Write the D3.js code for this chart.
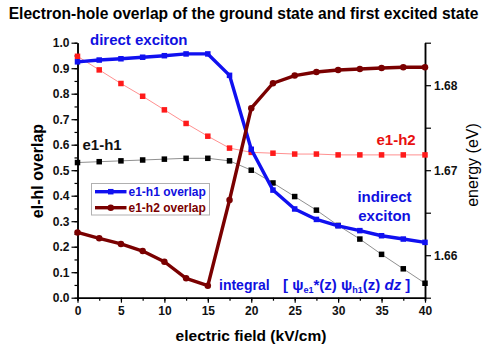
<!DOCTYPE html>
<html><head><meta charset="utf-8">
<script src="https://cdn.jsdelivr.net/npm/d3@7/dist/d3.min.js"></script>
<style>
body{margin:0;background:#fff;}
svg{font-family:"Liberation Sans",Arial,sans-serif;}
</style></head>
<body><svg id="c" width="488" height="350"></svg>
<script>
const field = [0,2.5,5,7.5,10,12.5,15,17.5,20,22.5,25,27.5,30,32.5,35,37.5,40];
const e1h1Overlap = [0.925,0.932,0.937,0.943,0.949,0.956,0.956,0.872,0.582,0.422,0.348,0.307,0.282,0.263,0.243,0.230,0.217];
const e1h2Overlap = [0.256,0.233,0.211,0.183,0.141,0.076,0.047,0.383,0.743,0.841,0.871,0.885,0.893,0.897,0.901,0.904,0.904];
const e1h1Energy = [1.6709,1.6710,1.6711,1.6712,1.6713,1.6714,1.6714,1.6711,1.6700,1.6685,1.6669,1.6653,1.6635,1.6619,1.6601,1.6584,1.6567];
const e1h2Energy = [1.6834,1.6818,1.6802,1.6787,1.6771,1.6755,1.6740,1.6726,1.6721,1.6720,1.6719,1.6719,1.6718,1.6718,1.6718,1.6718,1.6718];
const xTicks = [0,5,10,15,20,25,30,35,40];
const leftTicks = [0,0.1,0.2,0.3,0.4,0.5,0.6,0.7,0.8,0.9,1.0];
const rightTicks = [1.66,1.67,1.68];

const svg = d3.select("#c");
const L=77.5, R=425, T=42.7, B=297.7;
const x = d3.scaleLinear().domain([0,40]).range([L,R]);
const yL = d3.scaleLinear().domain([0,1]).range([B,T]);
const yR = d3.scaleLinear().domain([1.655,1.685]).range([B,T]);

svg.append("text").attr("x",243.5).attr("y",19).attr("text-anchor","middle")
  .attr("font-size",15.6).attr("font-weight","bold").text("Electron-hole overlap of the ground state and first excited state");

function styleAxis(g){
  g.selectAll("path").attr("stroke","#000").attr("stroke-width",1.5);
  g.selectAll("line").attr("stroke","#000").attr("stroke-width",1.2);
  g.selectAll("text").attr("font-size",12).attr("font-weight","bold").attr("fill","#111");
}
svg.append("g").attr("transform",`translate(0,${B})`)
  .call(d3.axisBottom(x).tickValues(d3.range(0,40.01,2.5)).tickSize(3).tickFormat("")).call(styleAxis);
svg.append("g").attr("transform",`translate(0,${B})`)
  .call(d3.axisBottom(x).tickValues(xTicks).tickSize(5).tickSizeOuter(0).tickPadding(4).tickFormat(d3.format("d"))).call(styleAxis);
svg.append("g").attr("transform",`translate(${L},0)`)
  .call(d3.axisLeft(yL).tickValues(d3.range(0,1.001,0.05)).tickSize(3).tickSizeOuter(0).tickFormat("")).call(styleAxis);
svg.append("g").attr("transform",`translate(${L},0)`)
  .call(d3.axisLeft(yL).tickValues(leftTicks).tickSize(6).tickSizeOuter(0).tickPadding(2).tickFormat(d3.format(".1f"))).call(styleAxis);
svg.append("g").attr("transform",`translate(${R},0)`)
  .call(d3.axisRight(yR).tickValues([1.655,1.665,1.675,1.685]).tickSize(6).tickSizeOuter(0).tickFormat("")).call(styleAxis);
svg.append("g").attr("transform",`translate(${R},0)`)
  .call(d3.axisRight(yR).tickValues(rightTicks).tickSize(6).tickSizeOuter(0).tickPadding(3).tickFormat(d3.format(".2f"))).call(styleAxis);

svg.append("text").attr("x",251).attr("y",341).attr("text-anchor","middle")
  .attr("font-size",15.5).attr("font-weight","bold").text("electric field (kV/cm)");
svg.append("text").attr("transform",`translate(43,171) rotate(-90)`).attr("text-anchor","middle")
  .attr("font-size",16).attr("font-weight","bold").text("el-hl overlap");
svg.append("text").attr("transform",`translate(478,165) rotate(-90)`).attr("text-anchor","middle")
  .attr("font-size",16).text("energy (eV)");

const pts = (ys, sc) => field.map((f,i)=>[x(f), sc(ys[i])]);
const line = d3.line();
function drawSeries(data, lineColor, w, markColor, shape, size){
  svg.append("path").attr("d",line(data)).attr("fill","none").attr("stroke",lineColor).attr("stroke-width",w).attr("stroke-linejoin","round");
  const g = svg.append("g");
  data.forEach(p=>{
    if(shape==="sq") g.append("rect").attr("x",p[0]-size/2).attr("y",p[1]-size/2).attr("width",size).attr("height",size).attr("fill",markColor);
    else g.append("circle").attr("cx",p[0]).attr("cy",p[1]).attr("r",size/2).attr("fill",markColor);
  });
}
drawSeries(pts(e1h1Energy,yR),"#909090",1,"#000","sq",5.5);
drawSeries(pts(e1h2Energy,yR),"#ff9090",1,"#ff1a1a","sq",5.5);
drawSeries(pts(e1h1Overlap,yL),"#1010f0",3.4,"#1010f0","sq",5.5);
drawSeries(pts(e1h2Overlap,yL),"#7a0000",3.4,"#7a0000","ci",6.5);

const ann = (tx,ty,t,c,anchor)=>svg.append("text").attr("x",tx).attr("y",ty).attr("fill",c)
  .attr("font-size",15).attr("font-weight","bold").attr("text-anchor",anchor||"start").text(t);
ann(90,45,"direct exciton","#1010e0");
ann(82.5,150,"e1-h1","#111");
ann(376.5,145,"e1-h2","#e81010");
ann(384.5,201.5,"indirect","#1010e0","middle");
ann(384.5,221,"exciton","#1010e0","middle");
const it = svg.append("text").attr("x",219).attr("y",289.5).attr("fill","#1010e0").attr("font-size",15).attr("font-weight","bold");
it.append("tspan").attr("font-size",14).text("integral");
it.append("tspan").attr("x",283).text("[ ");
it.append("tspan").text("ψ");
it.append("tspan").attr("font-size",9).attr("dy",3).text("e1");
it.append("tspan").attr("dy",-3).text("*(z) ");
it.append("tspan").text("ψ");
it.append("tspan").attr("font-size",9).attr("dy",3).text("h1");
it.append("tspan").attr("dy",-3).text("(z) ");
it.append("tspan").attr("font-style","italic").text("dz");
it.append("tspan").text(" ]");

const lg = svg.append("g");
lg.append("rect").attr("x",91.5).attr("y",183.5).attr("width",118).attr("height",31.5).attr("fill","#fff").attr("stroke","#b0b0b0").attr("stroke-width",1);
const leg = [{t:"e1-h1 overlap",c:"#1010f0",tc:"#1010e0",s:"sq",y:191.7},{t:"e1-h2 overlap",c:"#7a0000",tc:"#7a0000",s:"ci",y:207.7}];
leg.forEach(d=>{
  lg.append("line").attr("x1",95).attr("x2",126.5).attr("y1",d.y).attr("y2",d.y).attr("stroke",d.c).attr("stroke-width",3.4);
  if(d.s==="sq") lg.append("rect").attr("x",108).attr("y",d.y-2.75).attr("width",5.5).attr("height",5.5).attr("fill",d.c);
  else lg.append("circle").attr("cx",110.75).attr("cy",d.y).attr("r",3.25).attr("fill",d.c);
  lg.append("text").attr("x",128.5).attr("y",d.y+4.2).attr("font-size",12).attr("font-weight","bold").attr("fill",d.tc).text(d.t);
});
</script></body></html>
